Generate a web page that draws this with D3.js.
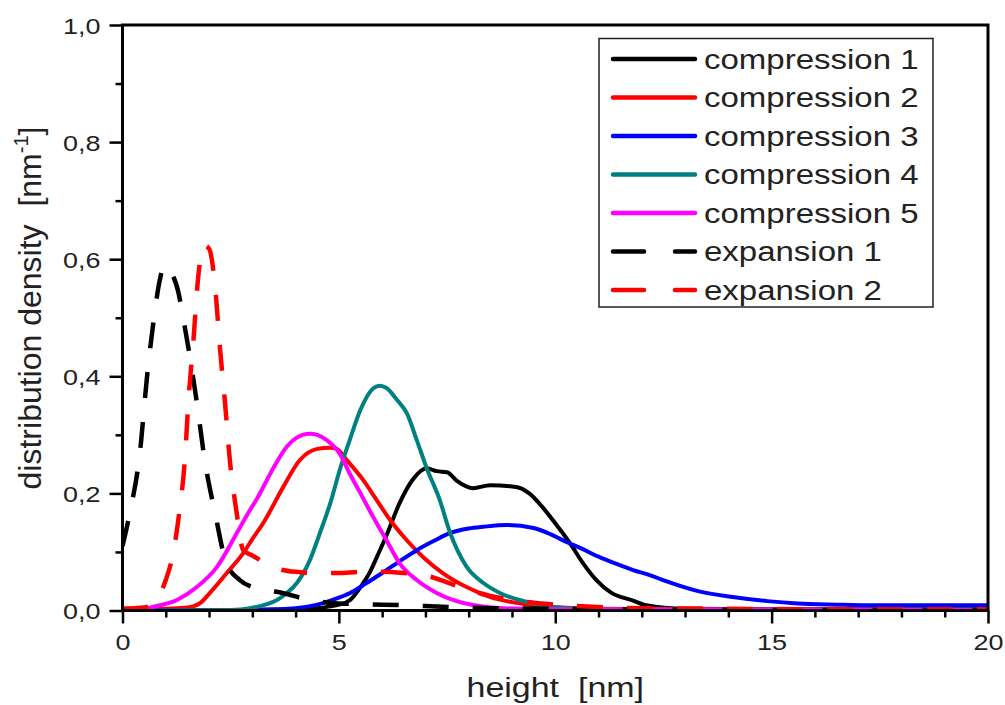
<!DOCTYPE html>
<html>
<head>
<meta charset="utf-8">
<script src="https://cdn.jsdelivr.net/npm/d3@7"></script>
<style>
  html, body { margin: 0; padding: 0; background: #fff; }
  svg { display: block; }
  text { font-family: "Liberation Sans", Arial, sans-serif; fill: #222; white-space: pre; }
</style>
</head>
<body>
<svg id="chart" width="1005" height="705"></svg>
<script>
// ---------- data ----------
const seriesNames = ["compression 1", "compression 2", "compression 3", "compression 4", "compression 5", "expansion 1", "expansion 2"];
const seriesColors = ["#000000", "#ff0000", "#0000ff", "#008080", "#ff00ff", "#000000", "#ff0000"];
const seriesDashed = [false, false, false, false, false, true, true];

const comp1X = [0, 3, 4, 4.5, 4.8, 5.0, 5.26, 5.5, 5.72, 5.9, 6.1, 6.4, 6.7, 7.03, 7.26, 7.5, 7.72, 8.1, 8.5, 9.1, 9.4, 9.7, 10.0, 10.34, 10.64, 10.95, 11.3, 11.8, 12.1, 13, 15, 20];
const comp1Y = [0.001, 0.001, 0.002, 0.004, 0.007, 0.01, 0.018, 0.04, 0.066, 0.095, 0.128, 0.183, 0.223, 0.243, 0.238, 0.236, 0.222, 0.209, 0.214, 0.211, 0.2, 0.177, 0.149, 0.115, 0.081, 0.052, 0.03, 0.017, 0.009, 0.003, 0.002, 0.002];

const comp2X = [0, 0.5, 1.0, 1.5, 1.8, 2.02, 2.41, 2.79, 3.0, 3.25, 3.7, 4.1, 4.5, 4.8, 4.95, 5.18, 5.56, 5.87, 6.18, 6.57, 6.95, 7.4, 7.95, 8.5, 9.1, 9.9, 11, 13, 20];
const comp2Y = [0.003, 0.004, 0.003, 0.005, 0.013, 0.03, 0.064, 0.098, 0.122, 0.149, 0.209, 0.257, 0.276, 0.278, 0.276, 0.257, 0.223, 0.189, 0.155, 0.12, 0.091, 0.064, 0.04, 0.023, 0.013, 0.006, 0.003, 0.002, 0.001];

const comp3X = [0, 3, 3.5, 4, 4.5, 5.0, 5.26, 5.6, 6.0, 6.4, 6.8, 7.2, 7.56, 8.0, 8.34, 8.87, 9.5, 9.9, 10.26, 10.6, 11.0, 11.4, 11.8, 12.2, 12.56, 13.3, 14.1, 14.9, 15.6, 16.5, 17.2, 18, 20];
const comp3Y = [0, 0.001, 0.002, 0.004, 0.01, 0.022, 0.03, 0.045, 0.064, 0.084, 0.103, 0.119, 0.132, 0.14, 0.143, 0.146, 0.141, 0.13, 0.117, 0.106, 0.092, 0.08, 0.069, 0.06, 0.05, 0.033, 0.023, 0.016, 0.012, 0.01, 0.009, 0.009, 0.009];

const comp4X = [0, 2.5, 2.95, 3.3, 3.57, 3.8, 4.03, 4.33, 4.56, 4.8, 5.02, 5.25, 5.5, 5.8, 5.95, 6.1, 6.34, 6.57, 6.8, 7.03, 7.33, 7.56, 7.95, 8.34, 8.72, 9.5, 10.5, 12, 20];
const comp4Y = [0, 0.001, 0.004, 0.01, 0.018, 0.03, 0.047, 0.086, 0.132, 0.183, 0.24, 0.291, 0.343, 0.38, 0.384, 0.38, 0.36, 0.337, 0.291, 0.243, 0.189, 0.135, 0.075, 0.047, 0.03, 0.012, 0.003, 0.001, 0];

const comp5X = [0, 0.5, 0.7, 1.26, 1.72, 2.18, 2.64, 2.95, 3.1, 3.5, 3.8, 4.0, 4.33, 4.5, 4.72, 5.02, 5.25, 5.5, 5.79, 6.1, 6.4, 6.8, 7.26, 7.87, 8.8, 10, 20];
const comp5Y = [0, 0.002, 0.006, 0.018, 0.04, 0.074, 0.132, 0.172, 0.19, 0.245, 0.28, 0.294, 0.302, 0.3, 0.291, 0.268, 0.234, 0.2, 0.16, 0.12, 0.081, 0.052, 0.03, 0.013, 0.004, 0.002, 0.001];

const exp1X = [0, 0.17, 0.4, 0.56, 0.71, 0.85, 0.97, 1.1, 1.29, 1.4, 1.52, 1.72, 1.9, 2.14, 2.4, 2.71, 3.0, 3.4, 3.7, 4.15, 4.8, 5.5, 6.5, 7.5, 8.5, 10, 12, 15, 20];
const exp1Y = [0.11, 0.167, 0.268, 0.394, 0.49, 0.56, 0.59, 0.58, 0.544, 0.5, 0.45, 0.354, 0.257, 0.166, 0.081, 0.052, 0.04, 0.034, 0.03, 0.021, 0.013, 0.011, 0.009, 0.006, 0.004, 0.003, 0.002, 0.001, 0.001];

const exp2X = [0, 0.5, 0.8, 1.0, 1.17, 1.29, 1.45, 1.52, 1.64, 1.75, 1.87, 2.0, 2.14, 2.25, 2.37, 2.48, 2.64, 2.79, 3.0, 3.48, 4.0, 4.5, 5.0, 5.5, 6.0, 6.5, 7.0, 7.5, 8.0, 8.5, 9.0, 10, 11, 12, 14, 17, 20];
const exp2Y = [0.003, 0.005, 0.02, 0.052, 0.098, 0.155, 0.268, 0.354, 0.462, 0.57, 0.624, 0.618, 0.553, 0.45, 0.354, 0.257, 0.166, 0.103, 0.094, 0.074, 0.066, 0.064, 0.064, 0.066, 0.066, 0.064, 0.06, 0.048, 0.035, 0.025, 0.018, 0.01, 0.006, 0.004, 0.003, 0.002, 0.002];

const seriesX = [comp1X, comp2X, comp3X, comp4X, comp5X, exp1X, exp2X];
const seriesY = [comp1Y, comp2Y, comp3Y, comp4Y, comp5Y, exp1Y, exp2Y];

const xMajorTicks = [0, 5, 10, 15, 20];
const xMinorTicks = [1, 2, 3, 4, 6, 7, 8, 9, 11, 12, 13, 14, 16, 17, 18, 19];
const yMajorTicks = [0, 0.2, 0.4, 0.6, 0.8, 1.0];
const yMinorTicks = [0.1, 0.3, 0.5, 0.7, 0.9];
const xTitle = "height  [nm]";
const yTitle = "distribution density  [nm";
const yTitleSup = "-1";

// ---------- layout ----------
const svg = d3.select("#chart");
const L = 122.5, R = 988, T = 25, B = 610.5;
const SY = 0.81; // vertical squash of text seen in the picture
const x = d3.scaleLinear().domain([0, 20]).range([L, R]);
const y = d3.scaleLinear().domain([0, 1]).range([B, T]);
const fmt = d => d3.format(".1f")(d).replace(".", ",");

svg.append("defs").append("clipPath").attr("id", "plotclip")
  .append("rect").attr("x", L).attr("y", T).attr("width", R - L).attr("height", B - T);

// curves
const plot = svg.append("g").attr("clip-path", "url(#plotclip)");
seriesNames.forEach((name, i) => {
  const pts = seriesX[i].map((xv, j) => [xv, seriesY[i][j]]);
  const line = d3.line().x(d => x(d[0])).y(d => y(d[1])).curve(d3.curveMonotoneX);
  plot.append("path")
    .attr("d", line(pts))
    .attr("fill", "none")
    .attr("stroke", seriesColors[i])
    .attr("stroke-width", seriesDashed[i] ? 4.5 : 4)
    .attr("stroke-linejoin", "round")
    .attr("stroke-dasharray", seriesDashed[i] ? "26,24" : null);
});

// axes
function styleAxis(g) {
  g.select(".domain").remove();
  g.selectAll(".tick line").attr("stroke", "#000").attr("stroke-width", 2.5);
}
const xAxisMinor = svg.append("g").attr("transform", `translate(0,${B})`)
  .call(d3.axisBottom(x).tickValues(xMinorTicks).tickSize(7).tickFormat(""));
styleAxis(xAxisMinor);
const xAxis = svg.append("g").attr("transform", `translate(0,${B})`)
  .call(d3.axisBottom(x).tickValues(xMajorTicks).tickSize(13).tickFormat(d3.format("d")));
styleAxis(xAxis);
xAxis.selectAll(".tick text")
  .attr("y", 0).attr("dy", null)
  .attr("transform", `translate(0,39.5) scale(1,${SY})`)
  .style("font-size", "27px").attr("fill", "#222");

const yAxisMinor = svg.append("g").attr("transform", `translate(${L},0)`)
  .call(d3.axisLeft(y).tickValues(yMinorTicks).tickSize(7).tickFormat(""));
styleAxis(yAxisMinor);
const yAxis = svg.append("g").attr("transform", `translate(${L},0)`)
  .call(d3.axisLeft(y).tickValues(yMajorTicks).tickSize(13).tickFormat(fmt));
styleAxis(yAxis);
yAxis.selectAll(".tick text")
  .attr("x", 0).attr("dy", null)
  .attr("transform", `translate(-22,8) scale(1,${SY})`)
  .attr("text-anchor", "end")
  .style("font-size", "27px").attr("fill", "#222");

// frame
svg.append("rect").attr("x", L).attr("y", T).attr("width", R - L).attr("height", B - T)
  .attr("fill", "none").attr("stroke", "#000").attr("stroke-width", 3);

// axis titles
svg.append("g").attr("transform", `translate(${(L + R) / 2},697) scale(1,${SY})`)
  .append("text").attr("text-anchor", "middle").style("font-size", "34px").text(xTitle);

const yt = svg.append("text")
  .attr("transform", "translate(41,308) rotate(-90)")
  .attr("text-anchor", "middle").style("font-size", "32px");
yt.append("tspan").text(yTitle);
yt.append("tspan").attr("dy", -13).style("font-size", "20px").text(yTitleSup);
yt.append("tspan").attr("dy", 13).text("]");

// legend
const lg = svg.append("g");
lg.append("rect").attr("x", 599).attr("y", 38.5).attr("width", 334).attr("height", 268.5)
  .attr("fill", "#fff").attr("stroke", "#222").attr("stroke-width", 1.5);
seriesNames.forEach((name, i) => {
  const cy = 59 + i * 38.5;
  lg.append("line").attr("x1", 613).attr("x2", 695).attr("y1", cy).attr("y2", cy)
    .attr("stroke", seriesColors[i]).attr("stroke-width", 4.5)
    .attr("stroke-linecap", "round")
    .attr("stroke-dasharray", seriesDashed[i] ? "31,31" : null);
  lg.append("g").attr("transform", `translate(704,${cy + 9.5}) scale(1,${SY})`)
    .append("text").style("font-size", "33px").text(name);
});
</script>
</body>
</html>
